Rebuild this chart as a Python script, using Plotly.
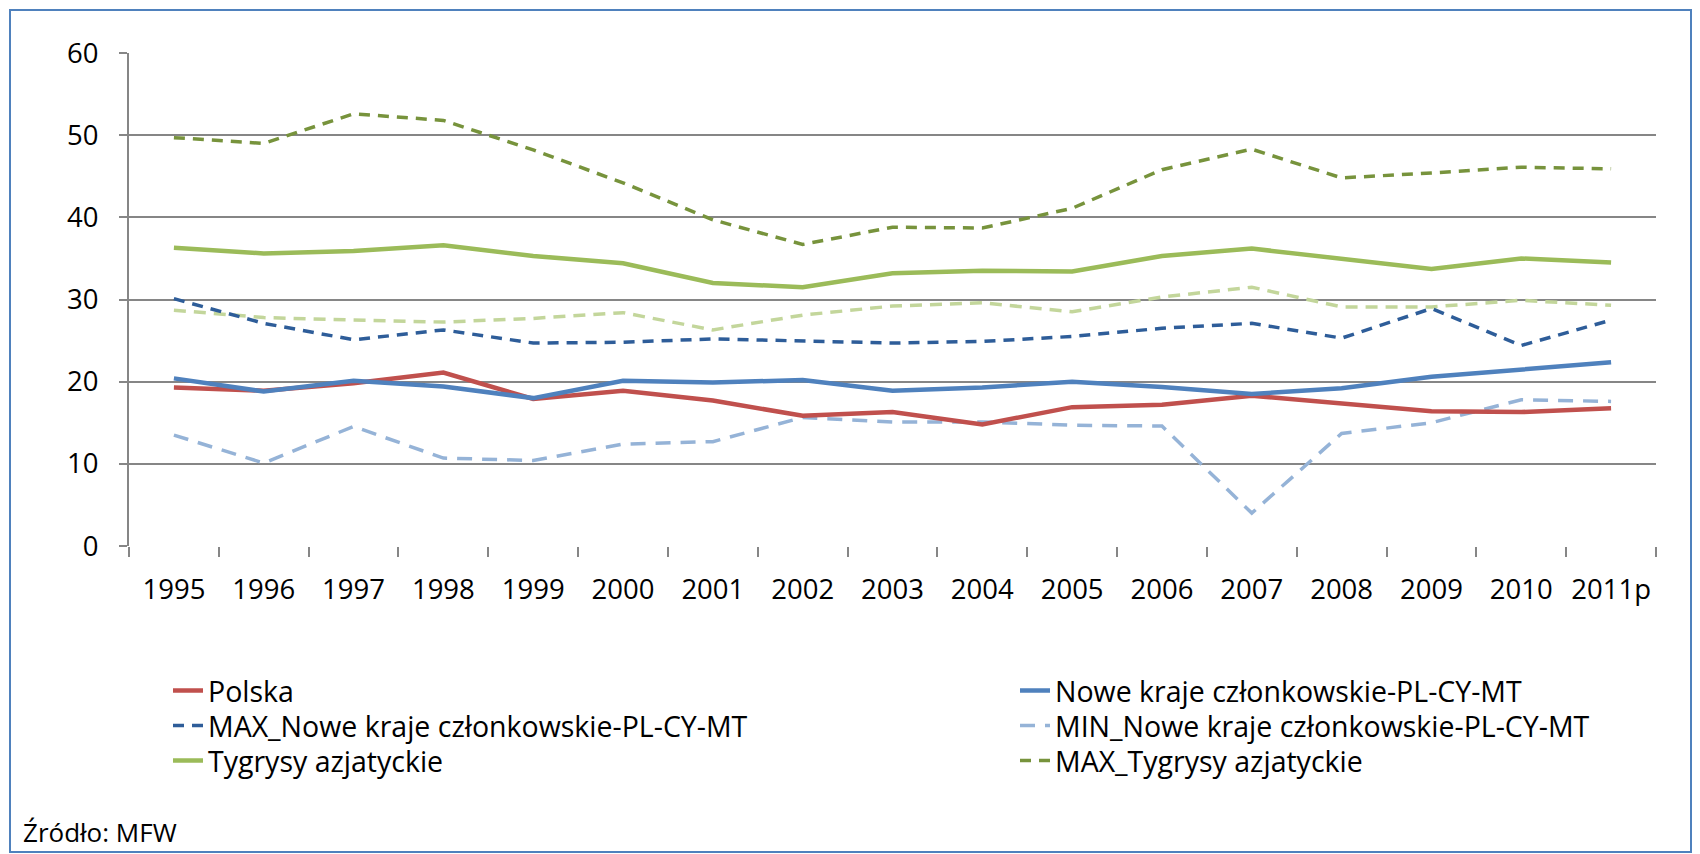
import plotly.graph_objects as go

years = ["1995", "1996", "1997", "1998", "1999", "2000", "2001", "2002", "2003",
         "2004", "2005", "2006", "2007", "2008", "2009", "2010", "2011p"]

polska = [19.3, 18.9, 19.8, 21.1, 17.9, 18.9, 17.7, 15.85, 16.3, 14.8, 16.9, 17.2, 18.3, 17.3, 16.4, 16.3, 16.75]
nowe = [20.4, 18.8, 20.1, 19.4, 18.0, 20.1, 19.9, 20.2, 18.9, 19.3, 20.0, 19.35, 18.5, 19.2, 20.6, 21.5, 22.35]
max_nowe = [30.1, 27.1, 25.1, 26.3, 24.7, 24.8, 25.2, 25.0, 24.7, 24.9, 25.5, 26.5, 27.1, 25.3, 28.9, 24.4, 27.5]
min_nowe = [13.5, 10.1, 14.55, 10.7, 10.4, 12.4, 12.7, 15.65, 15.1, 15.1, 14.7, 14.6, 4.0, 13.7, 15.0, 17.8, 17.6]
tygrysy = [36.3, 35.6, 35.9, 36.6, 35.3, 34.4, 32.0, 31.5, 33.2, 33.5, 33.4, 35.3, 36.2, 34.9, 33.7, 35.0, 34.5]
max_tygrysy = [49.7, 49.0, 52.6, 51.8, 48.2, 44.2, 39.7, 36.7, 38.8, 38.7, 41.1, 45.8, 48.3, 44.8, 45.4, 46.1, 45.9]
min_tygrysy = [28.7, 27.8, 27.5, 27.25, 27.7, 28.4, 26.3, 28.1, 29.2, 29.6, 28.5, 30.3, 31.5, 29.1, 29.1, 29.9, 29.3]

FONT = "Open Sans"
FS_TICK = 27.5
FS_LEG = 28.5
FS_SRC = 26

# plot area geometry (px)
L, R_EDGE, T, B = 129, 1656, 53, 546
W, H = 1700, 854
PW, PH = R_EDGE - L, B - T


def px_x(v):
    return (v - L) / PW


def px_y(v):
    return (B - v) / PH


fig = go.Figure()

fig.add_trace(go.Scatter(x=years, y=min_tygrysy, mode="lines", name="MIN_Tygrysy azjatyckie",
                         line=dict(color="#C3D69B", width=3.5, dash="12px,8px"), showlegend=False))
fig.add_trace(go.Scatter(x=years, y=max_tygrysy, mode="lines", name="MAX_Tygrysy azjatyckie",
                         line=dict(color="#77933C", width=3.5, dash="11px,8px"), legend="legend6"))
fig.add_trace(go.Scatter(x=years, y=tygrysy, mode="lines", name="Tygrysy azjatyckie",
                         line=dict(color="#9BBB59", width=4.5), legend="legend5"))
fig.add_trace(go.Scatter(x=years, y=min_nowe, mode="lines", name="MIN_Nowe kraje członkowskie-PL-CY-MT",
                         line=dict(color="#95B3D7", width=3.5, dash="15px,10px"), legend="legend4"))
fig.add_trace(go.Scatter(x=years, y=max_nowe, mode="lines", name="MAX_Nowe kraje członkowskie-PL-CY-MT",
                         line=dict(color="#2E5D99", width=3.5, dash="11px,8px"), legend="legend3"))
fig.add_trace(go.Scatter(x=years, y=polska, mode="lines", name="Polska",
                         line=dict(color="#C0504D", width=4.5), legend="legend"))
fig.add_trace(go.Scatter(x=years, y=nowe, mode="lines", name="Nowe kraje członkowskie-PL-CY-MT",
                         line=dict(color="#4F81BD", width=4.5), legend="legend2"))

legend_common = dict(orientation="v", font=dict(family=FONT, size=FS_LEG, color="#000000"),
                     bgcolor="rgba(0,0,0,0)", xanchor="left", yanchor="middle",
                     tracegroupgap=0, itemwidth=30)

LX, RX = 168, 1015
ROWS = [691, 726, 761]

fig.update_layout(
    width=W, height=H,
    margin=dict(l=L, r=W - R_EDGE, t=T, b=H - B, autoexpand=False),
    paper_bgcolor="white", plot_bgcolor="white",
    font=dict(family=FONT, size=FS_TICK, color="#000000"),
    legend=dict(**legend_common, x=px_x(LX), y=px_y(ROWS[0])),
    legend2=dict(**legend_common, x=px_x(RX), y=px_y(ROWS[0])),
    legend3=dict(**legend_common, x=px_x(LX), y=px_y(ROWS[1])),
    legend4=dict(**legend_common, x=px_x(RX), y=px_y(ROWS[1])),
    legend5=dict(**legend_common, x=px_x(LX), y=px_y(ROWS[2])),
    legend6=dict(**legend_common, x=px_x(RX), y=px_y(ROWS[2])),
    xaxis=dict(type="category", showgrid=False, showline=False, ticks="outside",
               tickson="boundaries", ticklen=10, tickwidth=2, tickcolor="#868686",
               tickfont=dict(family=FONT, size=FS_TICK), ticklabelstandoff=24,
               range=[-0.5, 16.5]),
    yaxis=dict(range=[0, 60], dtick=10, showgrid=True, gridcolor="#868686", gridwidth=2,
               showline=True, linecolor="#868686", linewidth=2, ticks="outside",
               ticklen=8, tickwidth=2, tickcolor="#868686", zeroline=False,
               tickfont=dict(family=FONT, size=FS_TICK), ticklabelstandoff=15),
    shapes=[dict(type="rect", xref="paper", yref="paper",
                 x0=px_x(10), x1=px_x(1691), y0=px_y(852), y1=px_y(10),
                 line=dict(color="#4F81BD", width=2), fillcolor="rgba(0,0,0,0)", layer="below")],
    annotations=[dict(text="Źródło: MFW", xref="paper", yref="paper", x=px_x(21), y=px_y(832),
                      xanchor="left", yanchor="middle", showarrow=False,
                      font=dict(family=FONT, size=FS_SRC, color="#000000"))],
)

fig.write_html("out.html", config={"displayModeBar": False},
               post_script="document.body.style.margin='0';")
